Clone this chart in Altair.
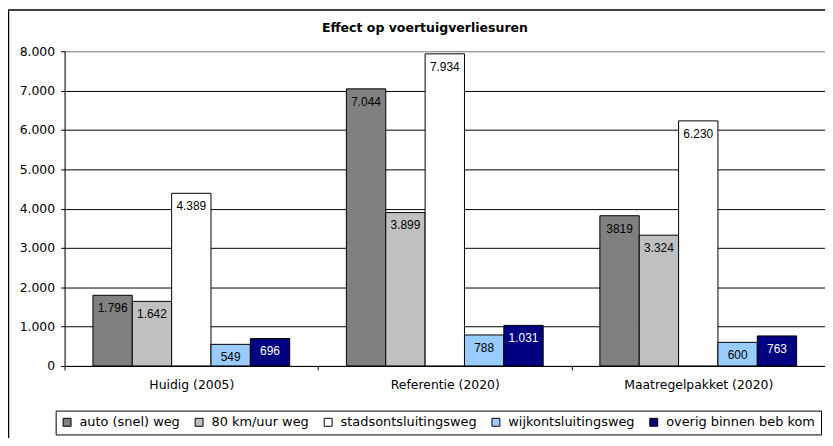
import altair as alt
import pandas as pd

categories = ["Huidig (2005)", "Referentie (2020)", "Maatregelpakket (2020)"]
series = ["auto (snel) weg", "80 km/uur weg", "stadsontsluitingsweg",
          "wijkontsluitingsweg", "overig binnen beb kom"]
colors = ["#808080", "#C0C0C0", "#FFFFFF", "#99CCFF", "#000080"]
label_colors = ["black", "black", "black", "black", "white"]

auto_snel = [1796, 7044, 3819]
km80 = [1642, 3899, 3324]
stads = [4389, 7934, 6230]
wijk = [549, 788, 600]
overig = [696, 1031, 763]

auto_lab = ["1.796", "7.044", "3819"]
km80_lab = ["1.642", "3.899", "3.324"]
stads_lab = ["4.389", "7.934", "6.230"]
wijk_lab = ["549", "788", "600"]
overig_lab = ["696", "1.031", "763"]

y_ticks = [0, 1000, 2000, 3000, 4000, 5000, 6000, 7000, 8000]

all_vals = [auto_snel, km80, stads, wijk, overig]
all_labs = [auto_lab, km80_lab, stads_lab, wijk_lab, overig_lab]

rows = []
for si, s in enumerate(series):
    for ci, c in enumerate(categories):
        rows.append({"cat": c, "ser": s, "val": all_vals[si][ci],
                     "lab": all_labs[si][ci], "tcol": label_colors[si]})
df = pd.DataFrame(rows)

FONT = "DejaVu Sans"

base = alt.Chart(df).encode(
    x=alt.X("cat:N", sort=categories,
            scale=alt.Scale(paddingInner=0, paddingOuter=0),
            axis=alt.Axis(title=None, labelAngle=0, tickBand="extent", tickSize=4,
                          tickColor="black", domainColor="black", labelColor="black",
                          labelFont=FONT, labelFontSize=12.5, labelPadding=9, grid=False)),
    xOffset=alt.XOffset("ser:N", sort=series,
                        scale=alt.Scale(paddingInner=0, paddingOuter=0.72)),
    y=alt.Y("val:Q", scale=alt.Scale(domain=[0, 8000], nice=False),
            axis=alt.Axis(title=None, values=y_ticks, tickSize=4, tickColor="black",
                          domainColor="black", labelColor="black", labelFont=FONT,
                          labelFontSize=12.5, labelPadding=6,
                          labelExpr="replace(format(datum.value, ',d'), ',', '.')",
                          grid=True,
                          gridColor={"condition": {"test": "datum.value === 8000",
                                                   "value": "#808080"},
                                     "value": "black"},
                          gridWidth=1)),
)

bars = base.mark_bar(stroke="black", strokeWidth=1, opacity=1).encode(
    color=alt.Color("ser:N", sort=series,
                    scale=alt.Scale(domain=series, range=colors),
                    legend=alt.Legend(title=None, orient="none", direction="horizontal",
                                      columns=5, legendX=-9, legendY=362,
                                      symbolType="square", symbolSize=64,
                                      symbolStrokeColor="black", symbolStrokeWidth=1,
                                      symbolOpacity=1, labelFont=FONT, labelFontSize=13,
                                      labelColor="black", labelOffset=6,
                                      columnPadding=12, padding=5,
                                      strokeColor="black", fillColor="white",
                                      labelLimit=300))
)

text = base.mark_text(baseline="middle", dy=13, font="Liberation Sans",
                      fontSize=12).encode(
    text="lab:N",
    color=alt.Color("tcol:N", scale=None),
)

frame = alt.Chart(pd.DataFrame({"a": [0]})).mark_rect(
    fillOpacity=0, stroke="black", strokeWidth=1.5
).encode(
    x=alt.value(-56.5), x2=alt.value(790),
    y=alt.value(-41.5), y2=alt.value(420),
)

chart = alt.layer(bars, text, frame).properties(
    width=766, height=317,
    title=alt.Title("Effect op voertuigverliesuren", font=FONT, fontSize=12.6,
                    fontWeight="bold", anchor="middle", dx=-20, offset=-25,
                    color="black"),
    autosize=alt.AutoSizeParams(type="none"),
    padding={"left": 57, "top": 42, "right": 0, "bottom": 71},
).configure_view(
    fill="#C0C0C0", stroke="#808080", strokeWidth=2
).configure(background="white")

chart.save("out.html", embed_options={"renderer": "svg", "actions": False})
